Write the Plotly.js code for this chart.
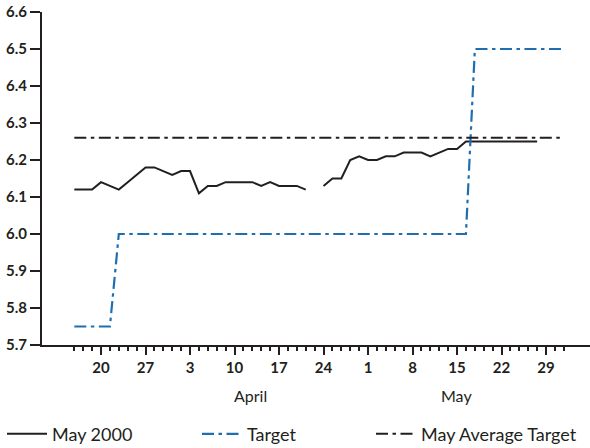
<!DOCTYPE html>
<html>
<head>
<meta charset="utf-8">
<script src="https://cdn.plot.ly/plotly-3.0.1.min.js"></script>
<style>
  html, body { margin: 0; padding: 0; background: #ffffff; }
  #chart { width: 590px; height: 448px; }
</style>
</head>
<body>
<div id="chart"></div>
<script>
// Business days shown on the chart (2000)
const dates = [
  '2000-03-15','2000-03-16','2000-03-17',
  '2000-03-20','2000-03-21','2000-03-22','2000-03-23','2000-03-24',
  '2000-03-27','2000-03-28','2000-03-29','2000-03-30','2000-03-31',
  '2000-04-03','2000-04-04','2000-04-05','2000-04-06','2000-04-07',
  '2000-04-10','2000-04-11','2000-04-12','2000-04-13','2000-04-14',
  '2000-04-17','2000-04-18','2000-04-19','2000-04-20','2000-04-21',
  '2000-04-24','2000-04-25','2000-04-26','2000-04-27','2000-04-28',
  '2000-05-01','2000-05-02','2000-05-03','2000-05-04','2000-05-05',
  '2000-05-08','2000-05-09','2000-05-10','2000-05-11','2000-05-12',
  '2000-05-15','2000-05-16','2000-05-17','2000-05-18','2000-05-19',
  '2000-05-22','2000-05-23','2000-05-24','2000-05-25','2000-05-26',
  '2000-05-29','2000-05-30','2000-05-31'
];

// "May 2000" contract series (null = no trading, Good Friday)
const may2000 = [
  6.12, 6.12, 6.12,
  6.14, 6.13, 6.12, 6.14, 6.16,
  6.18, 6.18, 6.17, 6.16, 6.17,
  6.17, 6.11, 6.13, 6.13, 6.14,
  6.14, 6.14, 6.14, 6.13, 6.14,
  6.13, 6.13, 6.13, 6.12, null,
  6.13, 6.15, 6.15, 6.20, 6.21,
  6.20, 6.20, 6.21, 6.21, 6.22,
  6.22, 6.22, 6.21, 6.22, 6.23,
  6.23, 6.25, 6.25, 6.25, 6.25,
  6.25, 6.25, 6.25, 6.25, 6.25
];

const target = [
  5.75, 5.75, 5.75,
  5.75, 5.75, 6.00, 6.00, 6.00,
  6.00, 6.00, 6.00, 6.00, 6.00,
  6.00, 6.00, 6.00, 6.00, 6.00,
  6.00, 6.00, 6.00, 6.00, 6.00,
  6.00, 6.00, 6.00, 6.00, 6.00,
  6.00, 6.00, 6.00, 6.00, 6.00,
  6.00, 6.00, 6.00, 6.00, 6.00,
  6.00, 6.00, 6.00, 6.00, 6.00,
  6.00, 6.00, 6.50, 6.50, 6.50,
  6.50, 6.50, 6.50, 6.50, 6.50,
  6.50, 6.50, 6.50
];

const mayAverageTarget = dates.map(() => 6.26);

// Weekly (Monday) tick dates and their labels
const tickDates = ['2000-03-20','2000-03-27','2000-04-03','2000-04-10','2000-04-17',
                   '2000-04-24','2000-05-01','2000-05-08','2000-05-15','2000-05-22','2000-05-29'];
const tickLabels = ['20','27','3','10','17','24','1','8','15','22','29'];
const monthLabels = ['April', 'May'];
const seriesNames = ['May 2000', 'Target', 'May Average Target'];

const INK = '#231f20';
const BLUE = '#1f6fb0';
const FONT = 'Lato, "Open Sans", "DejaVu Sans", sans-serif';

const traces = [
  {
    x: dates.slice(0, may2000.length), y: may2000, name: seriesNames[0],
    type: 'scatter', mode: 'lines', connectgaps: false,
    line: { color: INK, width: 2 }, legend: 'legend'
  },
  {
    x: dates, y: target, name: seriesNames[1],
    type: 'scatter', mode: 'lines',
    line: { color: BLUE, width: 2.2, dash: '12px,4.5px,3.5px,4.5px' }, legend: 'legend2'
  },
  {
    x: dates, y: mayAverageTarget, name: seriesNames[2],
    type: 'scatter', mode: 'lines',
    line: { color: INK, width: 2, dash: '12px,4.5px,3.5px,4.5px' }, legend: 'legend3'
  }
];

const legendBase = {
  orientation: 'h', xref: 'container', yref: 'container',
  y: 0.031, yanchor: 'middle', xanchor: 'left',
  bgcolor: 'rgba(0,0,0,0)', borderwidth: 0, itemwidth: 40,
  font: { family: FONT, size: 18, color: INK }
};

const layout = {
  width: 590, height: 448,
  margin: { l: 42, r: 0, t: 12, b: 103, pad: 0 },
  paper_bgcolor: '#ffffff', plot_bgcolor: '#ffffff',
  showlegend: true,
  legend: Object.assign({}, legendBase, { x: 2 / 590 }),
  legend2: Object.assign({}, legendBase, { x: 197 / 590 }),
  legend3: Object.assign({}, legendBase, { x: 371 / 590 }),
  xaxis: {
    type: 'date',
    rangebreaks: [{ bounds: ['sat', 'mon'] }],
    range: ['2000-03-09 08:53', '2000-06-02 22:30'],
    tickmode: 'array', tickvals: tickDates, ticktext: tickLabels,
    ticks: 'outside', ticklen: 8, tickwidth: 2, tickcolor: INK,
    minor: { tickmode: 'array', tickvals: dates, ticks: 'outside', ticklen: 4, tickwidth: 2, tickcolor: INK, showgrid: false },
    showline: true, linecolor: INK, linewidth: 2,
    showgrid: false, zeroline: false,
    tickfont: { family: FONT, size: 15, color: INK, weight: 'bold' }
  },
  yaxis: {
    range: [5.7, 6.6], tick0: 5.7, dtick: 0.1, tickformat: '.1f',
    ticks: 'outside', ticklen: 10, tickwidth: 2, tickcolor: INK,
    showline: true, linecolor: INK, linewidth: 2,
    showgrid: false, zeroline: false,
    tickfont: { family: FONT, size: 15, color: INK, weight: 'bold' }
  },
  annotations: [
    { text: monthLabels[0], xref: 'paper', yref: 'paper', x: 0.3796, y: 0, yshift: -50,
      xanchor: 'center', yanchor: 'middle', showarrow: false,
      font: { family: FONT, size: 16, color: INK } },
    { text: monthLabels[1], xref: 'paper', yref: 'paper', x: 0.757, y: 0, yshift: -50,
      xanchor: 'center', yanchor: 'middle', showarrow: false,
      font: { family: FONT, size: 16, color: INK } }
  ]
};

Plotly.newPlot('chart', traces, layout, { displayModeBar: false, staticPlot: true });
</script>
</body>
</html>
